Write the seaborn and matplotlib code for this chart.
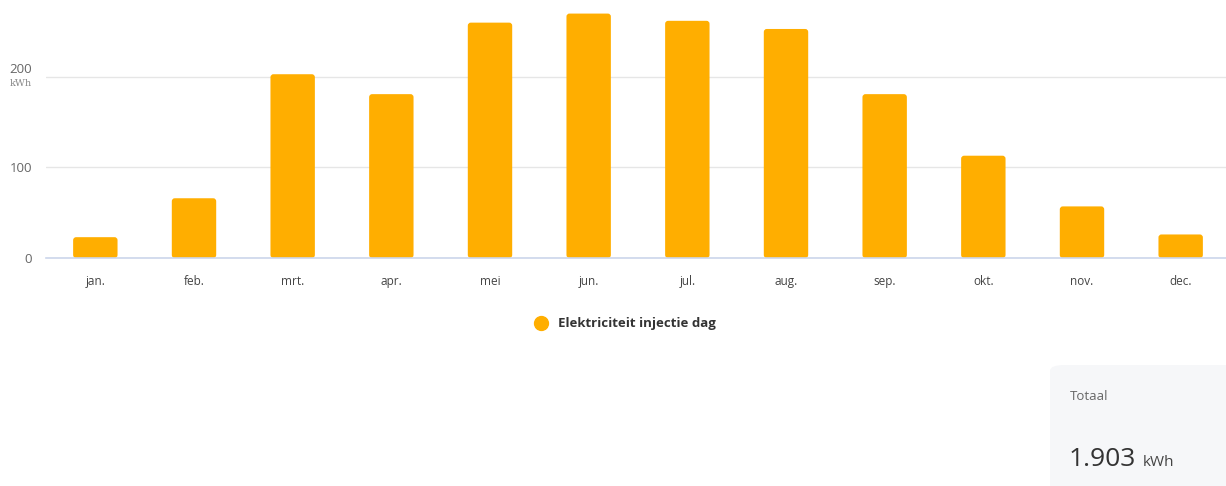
import pandas as pd
import seaborn as sns
import matplotlib.pyplot as plt
from matplotlib.patches import FancyBboxPatch
from matplotlib.lines import Line2D
import matplotlib.transforms as mtransforms

months = ['jan.', 'feb.', 'mrt.', 'apr.', 'mei', 'jun.', 'jul.', 'aug.', 'sep.', 'okt.', 'nov.', 'dec.']
injectie_kwh = [23, 66, 203, 181, 260, 270, 262, 253, 181, 113, 57, 26]
y_ticks = [0, 100, 200]
series_name = 'Elektriciteit injectie dag'
totaal_label = 'Totaal'
totaal_value = '1.903'
unit = 'kWh'

bar_color = '#FFAE00'

df = pd.DataFrame({'Maand': months, 'kWh': injectie_kwh})

sns.set_theme(style='white')
plt.rcParams['font.family'] = ['Open Sans', 'DejaVu Sans']

W, H = 1226, 486
fig = plt.figure(figsize=(W / 100, H / 100), dpi=100)
ax = fig.add_axes([46 / W, (H - 258) / H, 1184 / W, 258 / H])

sns.barplot(data=df, x='Maand', y='kWh', color=bar_color, width=0.45,
            saturation=1, ax=ax, zorder=3)

ax.set_xlim(-0.5, 11.5)
ax.set_ylim(0, 285)

# rounded bar corners
px_x = 1184 / 12.0
px_y = 258 / 285.0
for p in list(ax.patches):
    x, y, w, h = p.get_x(), p.get_y(), p.get_width(), p.get_height()
    rp = FancyBboxPatch((x, y), w, h, boxstyle='round,pad=0,rounding_size=%f' % (3 / px_x),
                        mutation_aspect=px_x / px_y, facecolor=bar_color,
                        edgecolor='none', zorder=3)
    p.remove()
    ax.add_patch(rp)

ax.set_yticks(y_ticks)
ax.set_yticklabels([str(v) for v in y_ticks[:-1]] + [''])
ax.yaxis.grid(True, color='#e6e6e6', linewidth=1, zorder=0)
ax.set_xlabel('')
ax.set_ylabel('')
for s in ['top', 'right', 'left']:
    ax.spines[s].set_visible(False)
ax.spines['bottom'].set_color('#ccd6eb')
ax.spines['bottom'].set_linewidth(1.2)
ax.spines['bottom'].set_zorder(4)

ax.tick_params(axis='x', length=8, width=1, color='#ccd6eb', pad=4,
               labelsize=8.5, labelcolor='#444444')
ax.tick_params(axis='y', length=0, pad=10, labelsize=9.5, labelcolor='#666666')

trans = ax.get_yaxis_transform()
up = mtransforms.offset_copy(trans, fig=fig, x=-14, y=7, units='dots')
down = mtransforms.offset_copy(trans, fig=fig, x=-14, y=-2, units='dots')
ax.text(0, y_ticks[-1], str(y_ticks[-1]), transform=up, ha='right', va='center',
        fontsize=9.5, color='#666666')
ax.text(0, y_ticks[-1], unit, transform=down, ha='right', va='top',
        fontsize=7, color='#888888', family='DejaVu Serif')

# legend
handle = Line2D([0], [0], marker='o', linestyle='', markersize=10,
                markerfacecolor=bar_color, markeredgecolor=bar_color)
leg = fig.legend([handle], [series_name], loc='center', bbox_to_anchor=(622 / W, 1 - 324 / H),
                 frameon=False, handletextpad=0.3, prop={'weight': 'bold', 'size': 9.5})
for t in leg.get_texts():
    t.set_color('#333333')

# totaal box
box = FancyBboxPatch((1050 / W, 1 - 520 / H), 200 / W, 155 / H,
                     boxstyle='round,pad=0,rounding_size=0.012',
                     transform=fig.transFigure, facecolor='#f6f7f9', edgecolor='none')
fig.patches.append(box)
fig.text(1070 / W, 1 - 396 / H, totaal_label, fontsize=9.5, color='#666666', va='center')
fig.text(1069 / W, 1 - 459 / H, totaal_value, fontsize=19, color='#333333', va='center')
fig.text(1143 / W, 1 - 462 / H, unit, fontsize=11, color='#444444', va='center')

plt.savefig('out.png', dpi=100)
